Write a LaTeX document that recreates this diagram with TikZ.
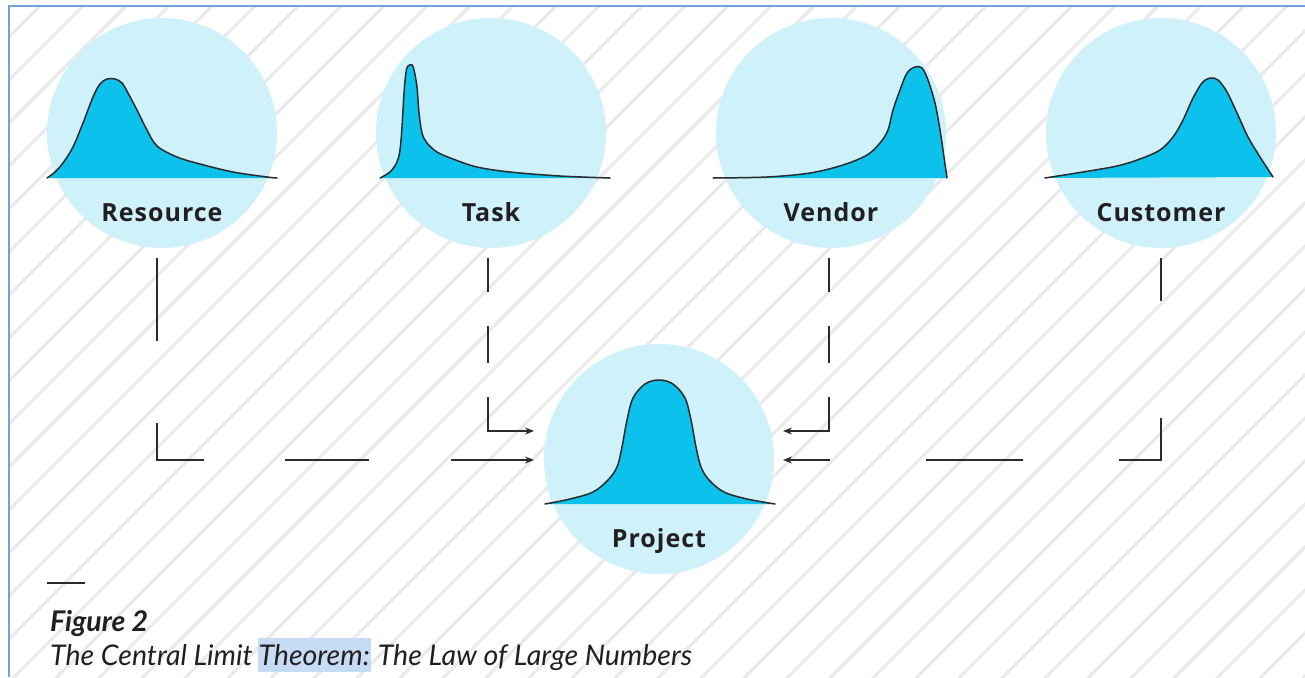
\documentclass[tikz,border=0pt]{standalone}
\usepackage{fontspec}
\usetikzlibrary{arrows.meta}
\newfontfamily\lblfont{Open Sans}[LetterSpace=4]
\newfontfamily\capfont{Lato}
\definecolor{hatch}{HTML}{EAEAEA}
\definecolor{circfill}{HTML}{CFF1FA}
\definecolor{distfill}{HTML}{0CC2EC}
\definecolor{curve}{HTML}{2B2B2B}
\definecolor{framecol}{HTML}{6FA3DD}
\definecolor{txt}{HTML}{231F20}
\definecolor{hl}{HTML}{C6DCF5}
\newcommand\distcurve[1]{%
  \fill[dist] plot[smooth,tension=0.55] coordinates {#1} -- cycle;
  \draw[distline] plot[smooth,tension=0.55] coordinates {#1};}
\begin{document}
\begin{tikzpicture}[x=1pt,y=-1pt,
  bubble/.style={circle, fill=circfill, minimum size=230pt, inner sep=0pt, draw=none},
  lbl/.style={font=\lblfont\bfseries\fontsize{25}{29}\selectfont, text=txt, anchor=base, inner sep=0pt},
  dist/.style={fill=distfill, draw=none},
  distline/.style={draw=curve, line width=1.5pt, line join=round, line cap=round},
  conn/.style={draw=curve, line width=1.5pt, -{Stealth[length=9pt,width=7pt]}},
  captxt/.style={anchor=base west, inner sep=0pt, text=txt},
  capit/.style={font=\capfont\itshape\fontsize{28.5}{32}\selectfont},
]
\useasboundingbox (0,0) rectangle (1305,677);
\fill[white] (0,0) rectangle (1305,677);
% hatching
\begin{scope}
  \clip (9,6) rectangle (1305,677);
  \foreach \k in {0,...,47} {
    \draw[hatch, line width=3pt] ({3+43*\k},0) -- (0,{3+43*\k});
  }
\end{scope}
\draw[framecol, line width=2pt] (9,677) -- (9,6) -- (1305,6);

% circles
\node[bubble] (res) at (162,133) {};
\node[bubble] (task) at (491,133) {};
\node[bubble] (vend) at (831,133) {};
\node[bubble] (cust) at (1161,133) {};
\node[bubble] (proj) at (659,459) {};

% distributions
\distcurve{(47,178) (55,172) (63,163) (73,147) (83,123) (93,97) (100,84) (107,79) (115,79) (122,83) (128,93) (137,110) (147,130) (157,146) (177,157) (200,164) (233,172) (267,177) (277,178)}
\distcurve{(380,178) (390,172) (397,162) (400,150) (402,127) (404,93) (406,72) (408,66) (412,65) (414,70) (417,87) (419,113) (422,133) (427,143) (437,152) (453,159) (477,167) (510,172) (560,176) (610,178)}
\distcurve{(713,178) (767,177) (810,173) (843,165) (867,155) (880,143) (888,130) (893,110) (900,90) (907,73) (915,67) (922,68) (928,80) (935,103) (940,130) (944,157) (947,178)}
\distcurve{(1045,178) (1083,172) (1117,166) (1140,159) (1160,150) (1173,137) (1183,120) (1193,98) (1202,83) (1210,78) (1218,80) (1227,92) (1237,113) (1248,137) (1260,157) (1273,177)}
\distcurve{(545,504) (570,499) (593,492) (608,480) (617,467) (622,447) (627,420) (633,398) (645,384) (659,380) (673,384) (685,398) (691,420) (696,447) (701,467) (709,480) (724,492) (747,499) (775,504)}

% labels
\node[lbl] (resl) at (162,221) {Resource};
\node[lbl] (taskl) at (491,221) {Task};
\node[lbl] (vendl) at (831,221) {Vendor};
\node[lbl] (custl) at (1161,221) {Customer};
\node[lbl] (projl) at (659,547) {Project};

% connectors
\coordinate (resS) at (157,258);
\coordinate (taskS) at (488,258);
\coordinate (vendS) at (829,258);
\coordinate (custS) at (1161,258);
\coordinate (inL1) at (534,431);
\coordinate (inL2) at (534,460);
\coordinate (inR1) at (783,431);
\coordinate (inR2) at (783,460);
\draw[conn, dash pattern=on 83pt off 82pt on 84pt off 81pt on 84pt off 82pt on 200pt] (resS) |- (inL2);
\draw[conn, dash pattern=on 34pt off 34pt on 37pt off 34pt on 200pt] (taskS) |- (inL1);
\draw[conn, dash pattern=on 34pt off 34pt on 37pt off 34pt on 200pt] (vendS) |- (inR1);
\draw[conn, dash pattern=on 43pt off 117pt on 84pt off 96pt on 97pt off 96pt on 200pt] (custS) |- (inR2);

% caption
\coordinate (ruleA) at (47,583);
\coordinate (ruleB) at (85,583);
\draw[curve, line width=1.3pt] (ruleA) -- (ruleB);
\node[captxt, font=\capfont\bfseries\itshape\fontsize{28.5}{32}\selectfont] (figt) at (50,631) {Figure 2};
\node[captxt, capit] (cap1) at (50,665) {The Central Limit};
\node[captxt, capit, fill=hl, inner xsep=1pt, text height=27pt, text depth=7pt] (cap2) at ([xshift=4.5pt]cap1.base east) {Theorem:};
\node[captxt, capit] (cap3) at (cap2.base east) {\ The Law of Large Numbers};
\end{tikzpicture}
\end{document}
